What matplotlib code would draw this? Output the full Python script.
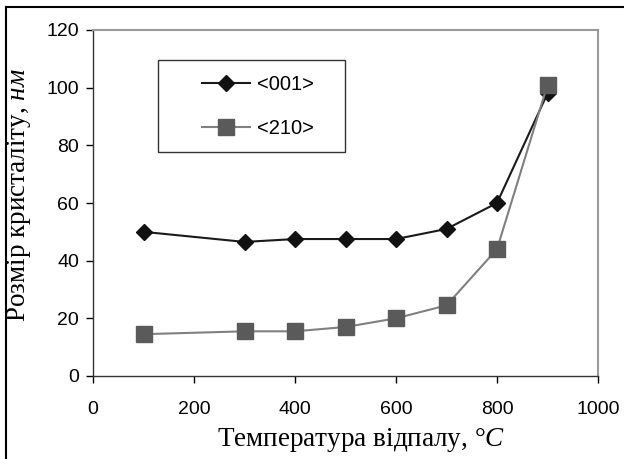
import numpy as np
import matplotlib.pyplot as plt
from matplotlib.lines import Line2D
from matplotlib.patches import Rectangle

plt.rcParams['font.family'] = ['Liberation Sans', 'DejaVu Sans']
plt.rcParams['mathtext.fontset'] = 'custom'
plt.rcParams['mathtext.rm'] = 'Liberation Serif'
plt.rcParams['mathtext.it'] = 'Liberation Serif:italic'

# annealing temperature, C
temp = [100, 300, 400, 500, 600, 700, 800, 900]
# crystallite size, nm
size_001 = [50, 46.5, 47.5, 47.5, 47.5, 51, 60, 98]
size_210 = [14.5, 15.5, 15.5, 17, 20, 24.5, 44, 101]

x_ticks = [0, 200, 400, 600, 800, 1000]
y_ticks = [0, 20, 40, 60, 80, 100, 120]

f = plt.figure(figsize=(6.24, 4.59), dpi=100)
ax = f.add_axes([93/624, 1-376/459, 505/624, 346/459])

ax.plot(temp, size_001, color='#1a1a1a', lw=1.5, marker='D', ms=8.5,
        mfc='#111111', mec='#111111', label='<001>')
ax.plot(temp, size_210, color='#808080', lw=1.5, marker='s', ms=11,
        mfc='#5a5a5a', mec='#5a5a5a', label='<210>')

ax.set_xlim(0, 1000)
ax.set_ylim(0, 120)
ax.set_xticks(x_ticks)
ax.set_yticks(y_ticks)
ax.tick_params(labelsize=14, direction='out', length=5, width=1, pad=5)
ax.tick_params(axis='x', pad=13)
for s in ['top', 'right']:
    ax.spines[s].set_color('#999999')
    ax.spines[s].set_linewidth(1.5)
for s in ['left', 'bottom']:
    ax.spines[s].set_color('#333333')
    ax.spines[s].set_linewidth(1)

serif = ['Liberation Serif', 'DejaVu Serif']
ax.set_xlabel('Температура відпалу, $\\it{°C}$', family=serif, fontsize=19.5)
ax.set_ylabel('Розмір кристаліту, $\\it{нм}$', family=serif, fontsize=19.5)
ax.xaxis.set_label_coords((361-93)/505, (376-426)/346)
ax.yaxis.set_label_coords((33-93)/505, (376-195)/346)

# legend with its own box
leg = ax.legend(loc='upper left', bbox_to_anchor=((202-93)/505, (376-75)/346),
                fontsize=14.5, frameon=False, handlelength=2.4,
                borderpad=0, labelspacing=1.25, borderaxespad=0,
                handletextpad=0.35)
ax.add_patch(Rectangle(((158-93)/505, (376-152)/346), (345-158)/505, 92/346,
                       transform=ax.transAxes, fill=False, ec='#333333', lw=1, zorder=5))

# frame of the figure (left and top edges)
f.add_artist(Line2D([6/624, 6/624], [0, 1-7/459], color='black', lw=1.5, transform=f.transFigure))
f.add_artist(Line2D([6/624, 1], [1-7/459, 1-7/459], color='black', lw=1.5, transform=f.transFigure))

f.savefig('out.png', dpi=100)
